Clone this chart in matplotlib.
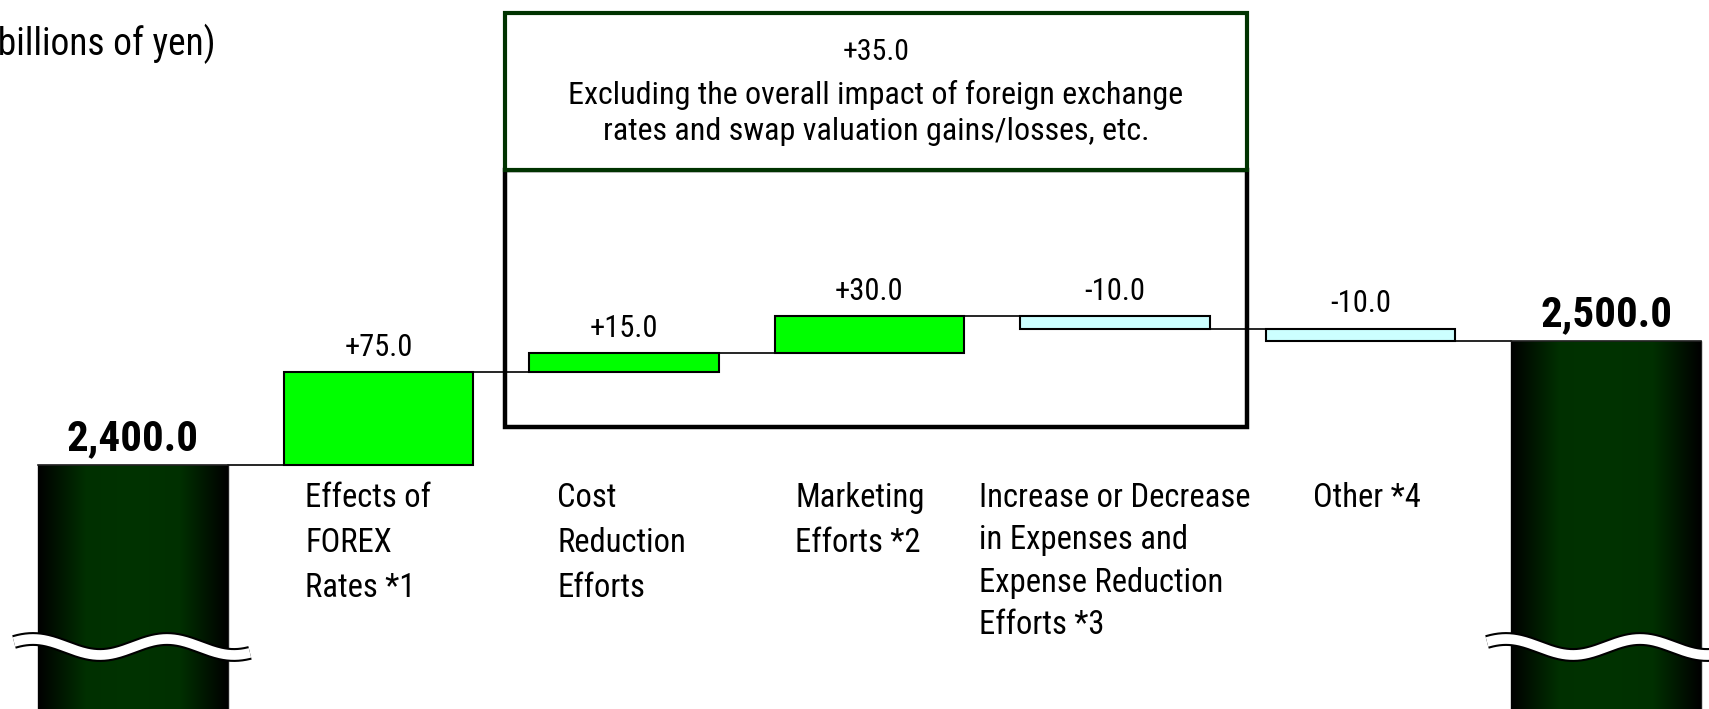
import numpy as np
import matplotlib
matplotlib.use("Agg")
import matplotlib.pyplot as plt
from matplotlib import font_manager
from matplotlib.patches import Rectangle
from matplotlib.colors import LinearSegmentedColormap

# ---------------- data ----------------
categories = ["FY start", "Effects of\nFOREX\nRates *1", "Cost\nReduction\nEfforts",
              "Marketing\nEfforts *2",
              "Increase or Decrease\nin Expenses and\nExpense Reduction\nEfforts *3",
              "Other *4", "FY end"]
start_total = 2400.0
end_total = 2500.0
changes = [75.0, 15.0, 30.0, -10.0, -10.0]
change_labels = ["+75.0", "+15.0", "+30.0", "-10.0", "-10.0"]
total_labels = ["2,400.0", "2,500.0"]
box_value = "+35.0"
box_text = "Excluding the overall impact of foreign exchange\nrates and swap valuation gains/losses, etc."
unit_text = "(billions of yen)"

# ---------------- fonts ----------------
avail = {f.name for f in font_manager.fontManager.ttflist}
fam = None
for cand in ["Liberation Sans Narrow", "Arial Narrow", "Roboto Condensed", "Liberation Sans"]:
    if cand in avail:
        fam = cand
        break
if fam is None:
    fam = "DejaVu Sans"
plt.rcParams["font.family"] = [fam, "DejaVu Sans"]

# ---------------- layout helpers ----------------
W, H = 1709, 709
PX_PER_UNIT = 1.24     # pixels per billion yen
X0_PX, DX_PX = 133.0, 245.5


def ydat(py):
    return start_total + (465.0 - py) / PX_PER_UNIT


def xdat(px):
    return (px - X0_PX) / DX_PX


fig = plt.figure(figsize=(W / 100, H / 100), dpi=100)
ax = fig.add_axes([0, 0, 1, 1])
ax.set_xlim(xdat(0), xdat(W))
ax.set_ylim(ydat(H), ydat(0))
ax.axis("off")

x = np.arange(len(categories))
bw = 0.77
floor = ydat(H + 50)

# ---------------- waterfall values ----------------
levels = [start_total]
for c in changes:
    levels.append(levels[-1] + c)

green = "#00FF00"
cyan = "#CCFFFF"
cmap = LinearSegmentedColormap.from_list(
    "col", [(0.0, "#000000"), (0.25, "#003000"), (0.5, "#003300"), (0.75, "#003000"), (1.0, "#000000")])
grad = np.linspace(0, 1, 256).reshape(1, -1)

# total bars
for xi, val in ((x[0], start_total), (x[-1], end_total)):
    bar = ax.bar(xi, val - floor, bottom=floor, width=bw, color="#003300",
                 edgecolor="#222222", linewidth=1.0, zorder=2)[0]
    im = ax.imshow(grad, cmap=cmap, aspect="auto", zorder=3,
                   extent=(xi - bw / 2, xi + bw / 2, floor, val))
    im.set_clip_path(bar)
    ax.plot([xi - bw / 2, xi + bw / 2], [val, val], color="#222222", lw=1.2, zorder=4)

# change bars
for i, c in enumerate(changes):
    xi = x[i + 1]
    bottom = levels[i] if c > 0 else levels[i + 1]
    ax.bar(xi, abs(c), bottom=bottom, width=bw, color=green if c > 0 else cyan,
           edgecolor="black", linewidth=1.5, zorder=3)
    top = max(levels[i], levels[i + 1])
    ax.annotate(change_labels[i], (xi, top), xytext=(0, 18), textcoords="offset points",
                ha="center", va="center", fontsize=22, zorder=6)

# connector lines
for i in range(len(x) - 1):
    lv = levels[i] if i < len(levels) else end_total
    ax.plot([x[i] + bw / 2, x[i + 1] - bw / 2], [lv, lv], color="black", lw=1.2, zorder=2)

# total labels
for xi, val, lab in ((x[0], start_total, total_labels[0]), (x[-1], end_total, total_labels[1])):
    ax.annotate(lab, (xi, val), xytext=(0, 11), textcoords="offset points",
                ha="center", va="baseline", fontsize=31, fontweight="bold", zorder=6)

# axis break marks
def break_mark(xc):
    px = np.linspace(-119, 117, 200)
    dy = 8 * np.cos(2 * np.pi * (px + 33) / 134)
    xs = xc + px / DX_PX
    ys = ydat(647 + dy)
    ax.plot(xs, ys, color="black", lw=10, solid_capstyle="butt", zorder=5)
    ax.plot(xs, ys, color="white", lw=7, solid_capstyle="butt", zorder=5)

break_mark(x[0])
break_mark(x[-1])

# category labels
label_px = [None, 305, 557, 795, 979, 1313, None]
for i, lab in enumerate(categories):
    if label_px[i] is None:
        continue
    ls = 1.52 if i != 4 else 1.42
    ax.text(xdat(label_px[i]), ydat(482), lab, ha="left", va="top",
            fontsize=23.5, linespacing=ls, zorder=6)

# highlight boxes
bx0, bx1 = xdat(505), xdat(1247)
ax.add_patch(Rectangle((bx0, ydat(427)), bx1 - bx0, ydat(170) - ydat(427), fill=False,
                       edgecolor="black", lw=3.2, zorder=4))
ax.add_patch(Rectangle((bx0, ydat(170)), bx1 - bx0, ydat(13) - ydat(170), facecolor="white",
                       edgecolor="#003300", lw=3.0, zorder=4))
ax.text((bx0 + bx1) / 2, ydat(52), box_value, ha="center", va="center", fontsize=21.5, zorder=6)
ax.text((bx0 + bx1) / 2, ydat(113), box_text, ha="center", va="center", fontsize=23,
        linespacing=1.3, zorder=6)

# unit text
fig.text(215 / W, 1 - 44 / H, unit_text, ha="right", va="center", fontsize=27)

fig.savefig("out.png", dpi=100)
